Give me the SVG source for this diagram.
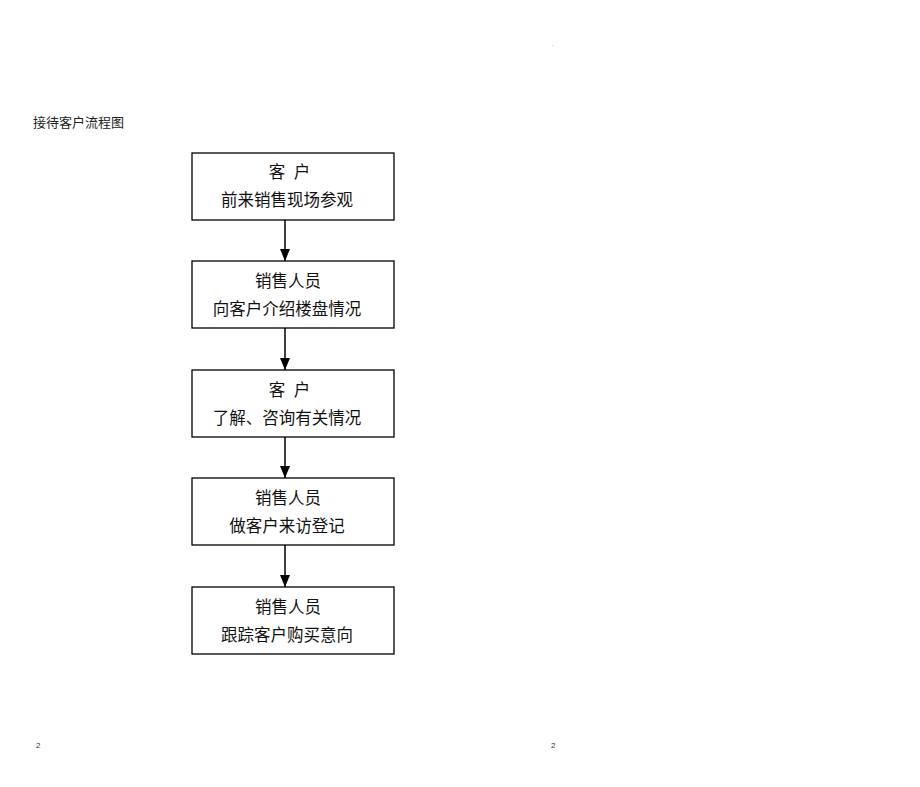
<svg xmlns="http://www.w3.org/2000/svg" width="920" height="787" viewBox="0 0 920 787">
<style>
.box{fill:#fff;stroke:#000;stroke-width:1.3}
.t{font-family:"Liberation Serif","Noto Sans CJK SC",serif;font-size:16.5px;fill:#111;text-anchor:middle}
.c{stroke:#000;stroke-width:1.5;fill:none}
.s{font-family:"Liberation Serif","Noto Sans CJK SC",serif;font-size:13px;fill:#222}
.p{font-family:"Liberation Sans",sans-serif;font-size:8px;fill:#333}
</style>
<defs>
<marker id="ah" markerWidth="12" markerHeight="10" refX="12" refY="5" orient="auto" markerUnits="userSpaceOnUse" viewBox="0 0 12 10">
<path d="M0,0 L12,5 L0,10 Z" fill="#000"/>
</marker>
</defs>
<rect width="920" height="787" fill="#fff"/>
<text class="s" x="33" y="127">接待客户流程图</text>
<text class="p" x="36" y="748">2</text>
<text class="p" x="551" y="748">2</text>
<text class="p" x="552" y="46" style="font-size:5px">.</text>
<g id="connectors">
<line class="c" x1="285" y1="220" x2="285" y2="261" marker-end="url(#ah)"/>
<line class="c" x1="285" y1="328" x2="285" y2="370" marker-end="url(#ah)"/>
<line class="c" x1="285" y1="437" x2="285" y2="478" marker-end="url(#ah)"/>
<line class="c" x1="285" y1="545" x2="285" y2="587" marker-end="url(#ah)"/>
</g>
<g id="n1"><rect class="box" x="192" y="153" width="202" height="67"/><text class="t" y="178"><tspan x="277">客</tspan><tspan x="302">户</tspan></text><text class="t" x="287" y="206">前来销售现场参观</text></g>
<g id="n2"><rect class="box" x="192" y="261" width="202" height="67"/><text class="t" x="288" y="287">销售人员</text><text class="t" x="287" y="315">向客户介绍楼盘情况</text></g>
<g id="n3"><rect class="box" x="192" y="370" width="202" height="67"/><text class="t" y="396"><tspan x="277">客</tspan><tspan x="302">户</tspan></text><text class="t" x="287" y="424">了解、咨询有关情况</text></g>
<g id="n4"><rect class="box" x="192" y="478" width="202" height="67"/><text class="t" x="288" y="504">销售人员</text><text class="t" x="287" y="532">做客户来访登记</text></g>
<g id="n5"><rect class="box" x="192" y="587" width="202" height="67"/><text class="t" x="288" y="613">销售人员</text><text class="t" x="287" y="641">跟踪客户购买意向</text></g>
</svg>
